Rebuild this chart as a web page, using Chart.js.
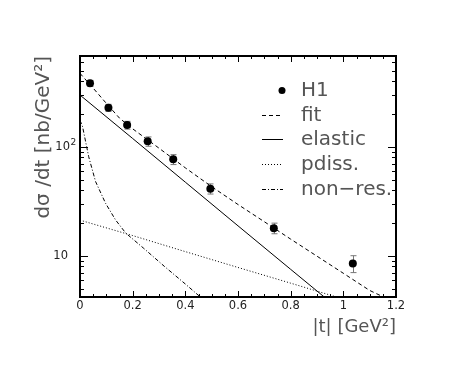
<!DOCTYPE html>
<html>
<head>
<meta charset="utf-8">
<title>dσ/dt vs |t|</title>
<script src="https://cdn.jsdelivr.net/npm/chart.js@4.4.1/dist/chart.umd.min.js"></script>
<style>
  html, body { margin: 0; padding: 0; background: #fff; }
  canvas { display: block; }
</style>
</head>
<body>
<canvas id="chart" width="454" height="369"></canvas>
<script>
const H1_T = [0.038, 0.108, 0.179, 0.257, 0.354, 0.495, 0.736, 1.036];
const H1_XS = [382, 228, 158, 112, 76.6, 41.2, 17.9, 8.5];
const H1_ERR = [24, 17, 13, 11, 8, 4.4, 2.0, 1.5];

// model curves
const FIT_T = [0, 0.05, 0.1, 0.15, 0.2, 0.3, 0.4, 0.5, 0.6, 0.7, 0.8, 0.9, 1.0, 1.1, 1.16];
const FIT_XS = [471, 345, 250, 183, 146, 97, 64, 43, 29.5, 20.5, 14.2, 9.9, 6.9, 4.8, 4.1];

const ELASTIC_T = [0, 0.2, 0.4, 0.6, 0.8, 1.0];
const ELASTIC_XS = [298, 119, 47.3, 18.8, 7.5, 3.0];

const PDISS_T = [0, 0.2, 0.4, 0.6, 0.8, 1.0];
const PDISS_XS = [21.2, 15.3, 10.9, 7.8, 5.6, 4.0];

const NONRES_T = [0, 0.01, 0.033, 0.059, 0.097, 0.135, 0.174, 0.24, 0.32, 0.4, 0.5];
const NONRES_XS = [175, 152, 81, 48, 30.3, 21.3, 16.1, 11.8, 8.0, 5.5, 3.4];

// axes
const X_TICKS = [0, 0.2, 0.4, 0.6, 0.8, 1, 1.2];
const X_TICK_LABELS = ['0', '0.2', '0.4', '0.6', '0.8', '1', '1.2'];
const Y_TICKS = [10, 100];
const Y_TICK_BASE = ['10', '10'];
const Y_TICK_EXP = ['', '2'];
const Y_MIN = 4.18;
const Y_MAX = 680;

const FONT = "'DejaVu Sans', 'Liberation Sans', sans-serif";
const INK = '#000';

const pts = (xs, ys) => xs.map((x, i) => ({ x, y: ys[i] }));

const line = (label, xs, ys, dash) => ({
    label,
    data: pts(xs, ys),
    showLine: true,
    borderColor: INK,
    borderWidth: 1,
    borderDash: dash,
    pointRadius: 0,
    tension: 0,
});

// vertical error bars with small caps, drawn under the markers
const errorBars = {
    id: 'errorBars',
    beforeDatasetsDraw(chart) {
        const { ctx, scales: { x, y } } = chart;
        ctx.save();
        ctx.strokeStyle = '#777';
        ctx.lineWidth = 1;
        H1_T.forEach((t, i) => {
            const px = Math.round(x.getPixelForValue(t)) + 0.5;
            const hi = y.getPixelForValue(H1_XS[i] + H1_ERR[i]);
            const lo = y.getPixelForValue(H1_XS[i] - H1_ERR[i]);
            ctx.beginPath();
            ctx.moveTo(px, hi); ctx.lineTo(px, lo);
            ctx.moveTo(px - 3, hi); ctx.lineTo(px + 3, hi);
            ctx.moveTo(px - 3, lo); ctx.lineTo(px + 3, lo);
            ctx.stroke();
        });
        ctx.restore();
    },
};

// closed frame with inward ticks on all four sides, plus the
// power-of-ten labels on the log axis (canvas text has no superscript)
const frame = {
    id: 'frame',
    afterDraw(chart) {
        const { ctx, chartArea: a, scales: { x, y } } = chart;
        ctx.save();
        ctx.strokeStyle = INK;
        ctx.lineWidth = 1;
        ctx.beginPath();
        for (let k = 0; k <= 24; k++) {
            const v = k * 0.05;
            const px = Math.round(x.getPixelForValue(v)) + 0.5;
            const len = k % 4 === 0 ? 6 : 3;
            ctx.moveTo(px, a.bottom); ctx.lineTo(px, a.bottom - len);
            ctx.moveTo(px, a.top); ctx.lineTo(px, a.top + len);
        }
        [1, 10, 100].forEach(dec => {
            for (let m = 1; m <= 9; m++) {
                const v = m * dec;
                if (v < Y_MIN || v > Y_MAX) continue;
                const py = Math.round(y.getPixelForValue(v)) + 0.5;
                const len = m === 1 ? 8 : 4;
                ctx.moveTo(a.left, py); ctx.lineTo(a.left + len, py);
                ctx.moveTo(a.right, py); ctx.lineTo(a.right - len, py);
            }
        });
        ctx.stroke();
        ctx.lineWidth = 2;
        ctx.strokeRect(a.left, a.top, a.right - a.left, a.bottom - a.top);

        ctx.fillStyle = '#222';
        ctx.textBaseline = 'middle';
        Y_TICKS.forEach((v, i) => {
            const py = y.getPixelForValue(v);
            const exp = Y_TICK_EXP[i];
            ctx.font = `11.5px ${FONT}`;
            ctx.textAlign = 'right';
            const baseRight = exp ? a.left - 10 : a.left - 12;
            ctx.fillText(Y_TICK_BASE[i], baseRight, py);
            if (exp) {
                ctx.font = `9px ${FONT}`;
                ctx.textAlign = 'left';
                ctx.fillText(exp, baseRight + 0.5, py - 4);
            }
        });
        ctx.restore();
    },
};

// legend inside the plot area, top right
const legendBox = {
    id: 'legendBox',
    afterDraw(chart) {
        const { ctx } = chart;
        const x0 = 262, x1 = 283, tx = 301, y0 = 90, dy = 24.7;
        ctx.save();
        ctx.font = `20px ${FONT}`;
        ctx.textBaseline = 'middle';
        chart.data.datasets.forEach((ds, i) => {
            const yy = Math.round(y0 + i * dy) + 0.5;
            ctx.strokeStyle = INK;
            ctx.fillStyle = INK;
            if (ds.showLine) {
                ctx.lineWidth = 1;
                ctx.setLineDash(ds.borderDash || []);
                ctx.beginPath();
                ctx.moveTo(x0, yy); ctx.lineTo(x1, yy);
                ctx.stroke();
                ctx.setLineDash([]);
            } else {
                ctx.beginPath();
                ctx.arc(x1 - 1, yy, 3.5, 0, Math.PI * 2);
                ctx.fill();
            }
            ctx.fillStyle = '#555';
            ctx.fillText(ds.label, tx, yy);
        });
        ctx.restore();
    },
};

new Chart(document.getElementById('chart'), {
    type: 'scatter',
    data: {
        datasets: [
            {
                label: 'H1',
                data: pts(H1_T, H1_XS),
                showLine: false,
                backgroundColor: INK,
                borderColor: INK,
                pointRadius: 4,
                borderWidth: 0,
            },
            line('fit', FIT_T, FIT_XS, [4, 3]),
            line('elastic', ELASTIC_T, ELASTIC_XS, []),
            line('pdiss.', PDISS_T, PDISS_XS, [1, 2]),
            line('non\u2212res.', NONRES_T, NONRES_XS, [4, 2, 1, 2]),
        ],
    },
    options: {
        responsive: false,
        animation: false,
        events: [],
        layout: { padding: { top: 56, right: 58, left: 0, bottom: 0 } },
        plugins: {
            legend: { display: false },
            tooltip: { enabled: false },
        },
        scales: {
            x: {
                type: 'linear',
                min: 0,
                max: 1.2,
                afterFit: (s) => { s.height = 72; },
                afterBuildTicks: (s) => { s.ticks = X_TICKS.map(value => ({ value })); },
                grid: { display: false, drawTicks: false },
                border: { display: false },
                ticks: {
                    callback: (v, i) => X_TICK_LABELS[i],
                    color: '#222',
                    padding: 2,
                    maxRotation: 0,
                    font: { family: FONT, size: 11.5 },
                },
                title: {
                    display: true,
                    text: '|t| [GeV²]',
                    align: 'end',
                    color: '#555',
                    padding: { top: 0, bottom: 31 },
                    font: { family: FONT, size: 18 },
                },
            },
            y: {
                type: 'logarithmic',
                min: Y_MIN,
                max: Y_MAX,
                afterFit: (s) => { s.width = 80; },
                afterBuildTicks: (s) => { s.ticks = Y_TICKS.map(value => ({ value })); },
                grid: { display: false, drawTicks: false },
                border: { display: false },
                ticks: { display: false },
                title: {
                    display: true,
                    text: 'dσ /dt [nb/GeV²]',
                    align: 'end',
                    color: '#555',
                    padding: { top: 32, bottom: 0 },
                    font: { family: FONT, size: 20 },
                },
            },
        },
    },
    plugins: [errorBars, frame, legendBox],
});
</script>
</body>
</html>
